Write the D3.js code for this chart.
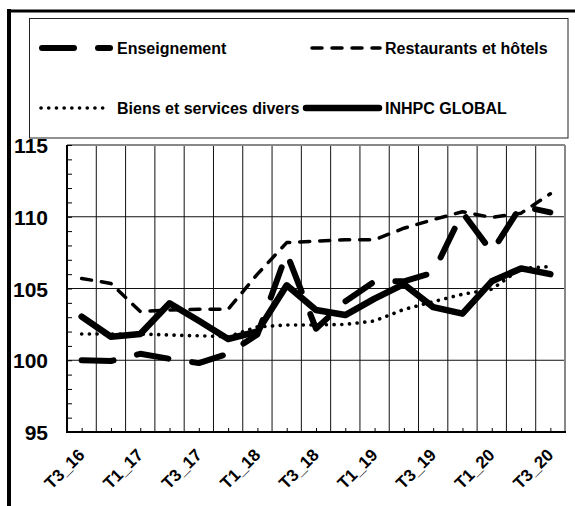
<!DOCTYPE html>
<html><head><meta charset="utf-8">
<script src="https://cdn.jsdelivr.net/npm/d3@7"></script>
<style>
html,body{margin:0;padding:0;background:#fff;}
svg{display:block;font-family:"Liberation Sans",Arial,sans-serif;font-weight:bold;}
</style></head>
<body>
<svg id="c" width="575" height="506"></svg>
<script>
const quarters = ["T3_16","T4_16","T1_17","T2_17","T3_17","T4_17","T1_18","T2_18","T3_18","T4_18","T1_19","T2_19","T3_19","T4_19","T1_20","T2_20","T3_20"];
const xTickLabels = ["T3_16","T1_17","T3_17","T1_18","T3_18","T1_19","T3_19","T1_20","T3_20"];
const yTicks = [95,100,105,110,115];
const enseignement = [100.0,99.95,100.45,100.1,99.8,100.45,101.8,107.45,102.2,104.1,105.5,105.5,106.1,110.3,107.55,110.75,110.3];
const restaurants = [105.7,105.35,103.4,103.5,103.55,103.55,106.0,108.2,108.3,108.4,108.4,109.2,109.8,110.35,109.95,110.25,111.6];
const biens = [101.83,101.83,101.83,101.76,101.7,101.64,102.32,102.46,102.46,102.5,102.74,103.54,104.08,104.6,104.95,106.4,106.53];
const globalIdx = [103.04,101.64,101.83,103.97,102.75,101.48,102.0,105.22,103.5,103.15,104.3,105.3,103.7,103.25,105.5,106.4,106.0];

const series = [
  {name:"Enseignement", values:enseignement, width:6, dash:"32,24", cap:"round"},
  {name:"Restaurants et hôtels", values:restaurants, width:3.5, dash:"10,10", cap:"round"},
  {name:"Biens et services divers", values:biens, width:3.6, dash:"0.1,7.6", cap:"round"},
  {name:"INHPC GLOBAL", values:globalIdx, width:6.5, dash:null, cap:"round"}
];

const svg = d3.select("#c");
const L=67, R=565, T=145, B=432;
const x = d3.scaleBand().domain(quarters).range([L,R]).padding(0);
const cx = d => x(d) + x.bandwidth()/2;
const y = d3.scaleLinear().domain([95,115]).range([B,T]);

// outer frame
svg.append("line").attr("x1",9).attr("x2",9).attr("y1",9).attr("y2",506).attr("stroke","#000").attr("stroke-width",4);
svg.append("line").attr("x1",7).attr("x2",575).attr("y1",11).attr("y2",11).attr("stroke","#000").attr("stroke-width",3);

// legend box
svg.append("rect").attr("x",29.5).attr("y",18.5).attr("width",538.5).attr("height",119.5)
  .attr("fill","#fff").attr("stroke","#222").attr("stroke-width",1);

// gridlines
const g = svg.append("g");
quarters.slice(1).forEach(q=>{
  g.append("line").attr("x1",x(q)).attr("x2",x(q)).attr("y1",T).attr("y2",B).attr("stroke","#111").attr("stroke-width",1);
});
[100,105,110].forEach(v=>{
  g.append("line").attr("x1",L).attr("x2",R).attr("y1",y(v)).attr("y2",y(v)).attr("stroke","#111").attr("stroke-width",1);
});
g.append("line").attr("x1",L).attr("x2",R).attr("y1",T).attr("y2",T).attr("stroke","#888").attr("stroke-width",2);
g.append("line").attr("x1",R).attr("x2",R).attr("y1",T).attr("y2",B).attr("stroke","#888").attr("stroke-width",2);

// minor y ticks (inward)
const minor = d3.range(95,116,1);
svg.append("g").attr("transform",`translate(${L},0)`)
  .call(d3.axisRight(y).tickValues(minor).tickSize(5).tickFormat(""))
  .call(s=>{s.select(".domain").remove(); s.selectAll("line").attr("stroke","#000").attr("stroke-width",1);});
// x ticks at category centers (inward)
svg.append("g").attr("transform",`translate(0,${B})`)
  .call(d3.axisTop(d3.scalePoint().domain(quarters).range([cx(quarters[0]),cx(quarters[quarters.length-1])])).tickSize(4).tickFormat(""))
  .call(s=>{s.select(".domain").remove(); s.selectAll("line").attr("stroke","#000").attr("stroke-width",1);});

// axis lines
svg.append("line").attr("x1",L).attr("x2",L).attr("y1",T).attr("y2",B+1).attr("stroke","#000").attr("stroke-width",2);
svg.append("line").attr("x1",L-1).attr("x2",R+1).attr("y1",B).attr("y2",B).attr("stroke","#000").attr("stroke-width",2);

// y labels
svg.append("g").attr("transform",`translate(48,0)`)
  .call(d3.axisLeft(y).tickValues(yTicks).tickSize(0).tickPadding(0))
  .call(s=>{s.select(".domain").remove();
    s.selectAll("text").attr("font-family","Liberation Sans, Arial, sans-serif").attr("font-weight","bold")
     .attr("font-size",21).attr("fill","#000").attr("dy","0.36em");});

// x labels (rotated -45)
svg.append("g").selectAll("text").data(xTickLabels).join("text")
  .attr("x",d=>cx(d)+4).attr("y",456)
  .attr("transform",d=>"rotate(-45," + (cx(d)+4) + ",456)")
  .style("text-anchor","end").attr("font-size",17).attr("fill","#000").text(d=>d);

// series lines
const line = d3.line().x((d,i)=>cx(quarters[i])).y(d=>y(d));
const draw = [series[2], series[1], series[0], series[3]];
draw.forEach(s=>{
  svg.append("path").datum(s.values).attr("d",line).attr("fill","none")
    .attr("stroke","#000").attr("stroke-width",s.width)
    .attr("stroke-dasharray",s.dash).attr("stroke-linecap",s.cap).attr("stroke-linejoin","round");
});

// legend
const leg = [
  {s:series[0], x1:42, x2:110, tx:117, ty:48},
  {s:series[1], x1:312, x2:380, tx:385, ty:48},
  {s:series[2], x1:41, x2:108, tx:117, ty:108},
  {s:series[3], x1:306, x2:379, tx:385, ty:108}
];
leg.forEach(l=>{
  svg.append("line").attr("x1",l.x1).attr("x2",l.x2).attr("y1",l.ty).attr("y2",l.ty)
    .attr("stroke","#000").attr("stroke-width",l.s.width).attr("stroke-dasharray",l.s.dash)
    .attr("stroke-linecap",l.s.cap);
  svg.append("text").attr("x",l.tx).attr("y",l.ty).attr("dy","0.36em").attr("font-size",16)
    .attr("fill","#000").text(l.s.name);
});
</script>
</body></html>
